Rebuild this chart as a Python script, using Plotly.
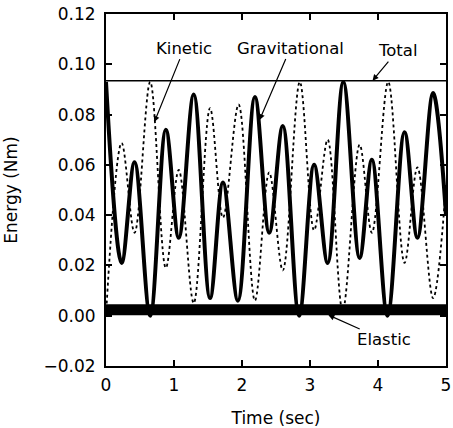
import plotly.graph_objects as go

# Gravitational energy (thick solid) - extrema
grav_t = [0.0, 0.23, 0.42, 0.65, 0.88, 1.07, 1.29, 1.53, 1.72, 1.94, 2.19, 2.40,
          2.60, 2.84, 3.06, 3.26, 3.49, 3.73, 3.91, 4.14, 4.39, 4.58, 4.81, 5.0]
grav_v = [0.093, 0.021, 0.061, 0.0, 0.074, 0.031, 0.088, 0.007, 0.053, 0.006, 0.087, 0.033,
          0.0755, 0.0, 0.060, 0.021, 0.093, 0.023, 0.062, 0.0, 0.073, 0.031, 0.0886, 0.040]

# Kinetic energy (dotted)
kin_t = [0.0, 0.23, 0.42, 0.65, 0.88, 1.07, 1.29, 1.53, 1.72, 1.95, 2.19, 2.40,
         2.60, 2.85, 3.06, 3.26, 3.48, 3.73, 3.91, 4.15, 4.39, 4.58, 4.81, 5.0]
kin_v = [0.0, 0.0687, 0.033, 0.093, 0.019, 0.058, 0.005, 0.0826, 0.039, 0.084, 0.006, 0.057,
         0.018, 0.093, 0.034, 0.070, 0.002, 0.068, 0.033, 0.093, 0.021, 0.059, 0.007, 0.052]

# Total energy (constant)
total_t = [0.0, 5.0]
total_v = [0.0935, 0.0935]

# Elastic energy (fast oscillation, drawn as a band)
elastic_t = [0.0, 1.0, 2.0, 3.0, 4.0, 5.0]
elastic_v = [0.0024, 0.0024, 0.0024, 0.0024, 0.0024, 0.0024]

x_ticks = [0, 1, 2, 3, 4, 5]
y_ticks = [-0.02, 0.0, 0.02, 0.04, 0.06, 0.08, 0.10, 0.12]

FONT = "DejaVu Sans"

fig = go.Figure()
fig.add_trace(go.Scatter(x=elastic_t, y=elastic_v, mode="lines",
                         line=dict(color="black", width=11), name="Elastic"))
fig.add_trace(go.Scatter(x=kin_t, y=kin_v, mode="lines",
                         line=dict(color="black", width=1.8, dash="dot", shape="spline", smoothing=1.0),
                         name="Kinetic"))
fig.add_trace(go.Scatter(x=grav_t, y=grav_v, mode="lines",
                         line=dict(color="black", width=4, shape="spline", smoothing=1.0),
                         name="Gravitational"))
fig.add_trace(go.Scatter(x=total_t, y=total_v, mode="lines",
                         line=dict(color="black", width=1.5), name="Total"))

ann_font = dict(family=FONT, size=16.5, color="black")
annots = [
    dict(x=0.71, y=0.077, text="Kinetic", ax=30, ay=-74),
    dict(x=2.257, y=0.0778, text="Gravitational", ax=31, ay=-72),
    dict(x=3.92, y=0.0935, text="Total", ax=25, ay=-30),
    dict(x=3.27, y=0.0003, text="Elastic", ax=56, ay=25),
]
for a in annots:
    fig.add_annotation(x=a["x"], y=a["y"], text=a["text"], ax=a["ax"], ay=a["ay"],
                       xref="x", yref="y", showarrow=True, arrowhead=2, arrowsize=1,
                       arrowwidth=1.2, arrowcolor="black", font=ann_font)

fig.update_layout(
    width=453, height=428,
    margin=dict(l=106, r=2, t=14, b=62),
    paper_bgcolor="white", plot_bgcolor="white",
    showlegend=False,
    font=dict(family=FONT, size=17, color="black"),
)
fig.update_xaxes(range=[0, 5], tickvals=x_ticks, ticktext=[str(v) for v in x_ticks],
                 ticks="inside", ticklen=6, tickwidth=1.5, tickcolor="black",
                 showline=True, linecolor="black", linewidth=2, mirror="ticks",
                 showgrid=False, zeroline=False, ticklabeloverflow="allow",
                 ticklabelstandoff=3,
                 tickfont=dict(family=FONT, size=17),
                 title=dict(text="Time (sec)", font=dict(family=FONT, size=17), standoff=19))
fig.update_yaxes(range=[-0.02, 0.12], tickvals=y_ticks,
                 ticktext=[("\u2212" if v < 0 else "") + f"{abs(v):.2f}" for v in y_ticks],
                 ticks="inside", ticklen=6, tickwidth=1.5, tickcolor="black",
                 showline=True, linecolor="black", linewidth=2, mirror="ticks",
                 showgrid=False, zeroline=False, ticklabelstandoff=5,
                 tickfont=dict(family=FONT, size=17),
                 title=dict(text="Energy (Nm)", font=dict(family=FONT, size=17), standoff=22))

fig.write_html("out.html")
